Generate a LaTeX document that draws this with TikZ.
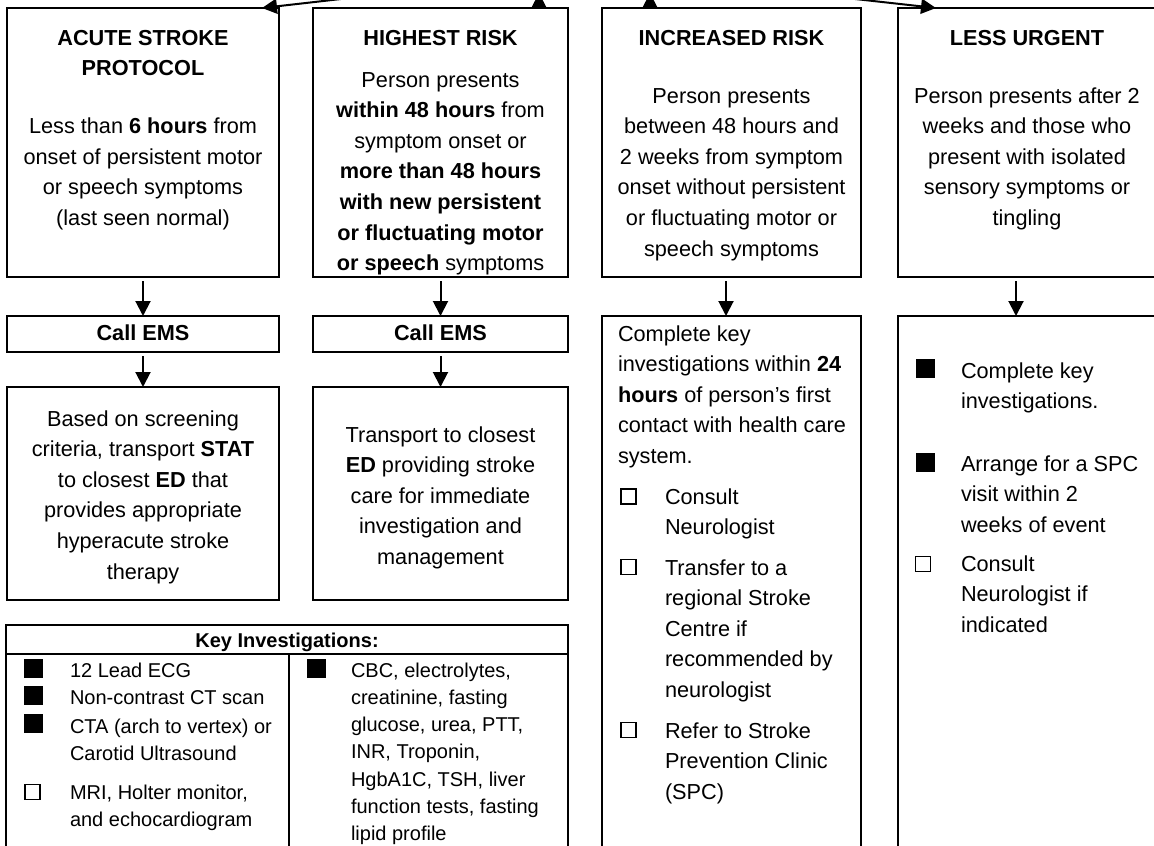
\documentclass[tikz,border=0pt]{standalone}
\usepackage{fontspec}
\setmainfont{Liberation Sans}
\usetikzlibrary{arrows.meta}
\newcommand\fs{\rule{0pt}{23pt}}
\tikzset{
  box/.style={draw, line width=2pt, inner sep=0pt, outer sep=0pt, anchor=north west},
  arr/.style={line width=2pt, -{Triangle[length=15pt,width=15pt]}},
  ln/.style={line width=2pt},
  tm/.style={font=\fontsize{21.7}{30.6}\selectfont, inner sep=0pt, outer sep=0pt},
  ctext/.style={tm, align=center, anchor=north},
  ltext/.style={tm, align=left, anchor=north west},
  keyt/.style={font=\fontsize{20}{27.3}\selectfont, inner sep=0pt, outer sep=0pt, align=left, anchor=north west},
  sqf/.style={fill=black, minimum size=19pt, inner sep=0pt, outer sep=0pt},
  sqo/.style={draw, line width=1.2pt, minimum size=15pt, inner sep=0pt, outer sep=0pt},
}
\begin{document}
\begin{tikzpicture}[x=1pt, y=-1pt]
\useasboundingbox (0,0) rectangle (1154,846);
\clip (0,0) rectangle (1154,846);

% top row boxes
\node[box, minimum width=272pt, minimum height=269pt] (b1) at (7,8) {};
\node[box, minimum width=255pt, minimum height=269pt] (b2) at (313,8) {};
\node[box, minimum width=259pt, minimum height=269pt] (b3) at (602,8) {};
\node[box, minimum width=258pt, minimum height=269pt] (b4) at (898,8) {};

% second row
\node[box, minimum width=272pt, minimum height=36pt] (e1) at (7,316) {};
\node[box, minimum width=255pt, minimum height=36pt] (e2) at (313,316) {};
\node[box, minimum width=259pt, minimum height=570pt] (l3) at (602,316) {};
\node[box, minimum width=258pt, minimum height=570pt] (l4) at (898,316) {};

% third row
\node[box, minimum width=272pt, minimum height=213pt] (l1) at (7,387) {};
\node[box, minimum width=255pt, minimum height=213pt] (l2) at (313,387) {};

% key investigations
\node[box, minimum width=562pt, minimum height=280pt] (key) at (6,625) {};
\coordinate (kl) at (6,654);
\coordinate (kr) at (568,654);
\coordinate (kd) at (289,654);
\draw[ln] (kl) -- (kr);
\draw[ln] (kd) -- (289,900);

% top incoming connectors
\coordinate (hub) at (595,-30);
\coordinate (u2) at (539,-7);
\coordinate (u3) at (650,-7);
\draw[arr] (hub) -- ([xshift=-17pt]b1.north east);
\draw[arr] (hub) -- ([xshift=38pt]b4.north west);
\draw[arr] (b2.north -| u2) -- (u2);
\draw[arr] (b3.north -| u3) -- (u3);

% vertical connectors
\draw[arr, shorten <=4pt] (b1.south) -- (e1.north);
\draw[arr, shorten <=4pt] (b2.south) -- (e2.north);
\draw[arr, shorten <=4pt] ([xshift=-5.5pt]b3.south) -- ([xshift=-5.5pt]l3.north);
\draw[arr, shorten <=4pt] ([xshift=-11pt]b4.south) -- ([xshift=-11pt]l4.north);
\draw[arr, shorten <=4pt] (e1.south) -- (l1.north);
\draw[arr, shorten <=4pt] (e2.south) -- (l2.north);

% top box texts
\node[ctext] (t1) at (143,22) {\fs\textbf{ACUTE STROKE}\\\textbf{PROTOCOL}\\[27.4pt]
Less than \textbf{6 hours} from\\onset of persistent motor\\or speech symptoms\\(last seen normal)};
\node[ctext] (t2) at (440.5,22) {\fs\textbf{HIGHEST RISK}\\[11.4pt]
Person presents\\\textbf{within 48 hours} from\\symptom onset or\\\textbf{more than 48 hours}\\\textbf{with new persistent}\\\textbf{or fluctuating motor}\\\textbf{or speech} symptoms};
\node[ctext] (t3) at (731.5,22) {\fs\textbf{INCREASED RISK}\\[27.4pt]
Person presents\\between 48 hours and\\2 weeks from symptom\\onset without persistent\\or fluctuating motor or\\speech symptoms};
\node[ctext] (t4) at (1027,22) {\fs\textbf{LESS URGENT}\\[27.4pt]
Person presents after 2\\weeks and those who\\present with isolated\\sensory symptoms or\\tingling};

% call EMS
\node[ctext] (c1) at (143,317) {\fs\textbf{Call EMS}};
\node[ctext] (c2) at (440.5,317) {\fs\textbf{Call EMS}};

% third row texts
\node[ctext] (s1) at (143,403) {\fs Based on screening\\criteria, transport \textbf{STAT}\\to closest \textbf{ED} that\\provides appropriate\\hyperacute stroke\\therapy};
\node[ctext] (s2) at (440.5,419) {\fs Transport to closest\\\textbf{ED} providing stroke\\care for immediate\\investigation and\\management};

% increased risk column
\node[ltext] (p3) at (618,318) {\fs Complete key\\investigations within \textbf{24}\\\textbf{hours} of person’s first\\contact with health care\\system.};
\node[sqo] (q31) at (628.5,496.5) {};
\node[ltext] (i31) at (665,481) {\fs Consult\\Neurologist};
\node[sqo] (q32) at (628.5,567) {};
\node[ltext] (i32) at (665,552) {\fs Transfer to a\\regional Stroke\\Centre if\\recommended by\\neurologist};
\node[sqo] (q33) at (628.5,730) {};
\node[ltext] (i33) at (665,715) {\fs Refer to Stroke\\Prevention Clinic\\(SPC)};

% less urgent column
\node[sqf] (q41) at (925,368) {};
\node[ltext] (i41) at (961,355) {\fs Complete key\\investigations.};
\node[sqf] (q42) at (925,462.5) {};
\node[ltext] (i42) at (961,448) {\fs Arrange for a SPC\\visit within 2\\weeks of event};
\node[sqo] (q43) at (923,564) {};
\node[ltext] (i43) at (961,548) {\fs Consult\\Neurologist if\\indicated};

% key investigations texts
\node[keyt, align=center, anchor=north] (kh) at (287,624) {\fs\textbf{Key Investigations:}};
\node[sqf] (k1) at (33.5,668) {};
\node[keyt] (kt1) at (70,654) {\fs 12 Lead ECG};
\node[sqf] (k2) at (33.5,695.5) {};
\node[keyt] (kt2) at (70,681) {\fs Non-contrast CT scan};
\node[sqf] (k3) at (33.5,723.5) {};
\node[keyt] (kt3) at (70,710) {\fs CTA (arch to vertex) or\\Carotid Ultrasound};
\node[sqo] (k4) at (32.5,792) {};
\node[keyt] (kt4) at (70,776) {\fs MRI, Holter monitor,\\and echocardiogram};
\node[sqf] (k5) at (316,668) {};
\node[keyt] (kt5) at (351,654) {\fs CBC, electrolytes,\\creatinine, fasting\\glucose, urea, PTT,\\INR, Troponin,\\HgbA1C, TSH, liver\\function tests, fasting\\lipid profile};
\end{tikzpicture}
\end{document}
